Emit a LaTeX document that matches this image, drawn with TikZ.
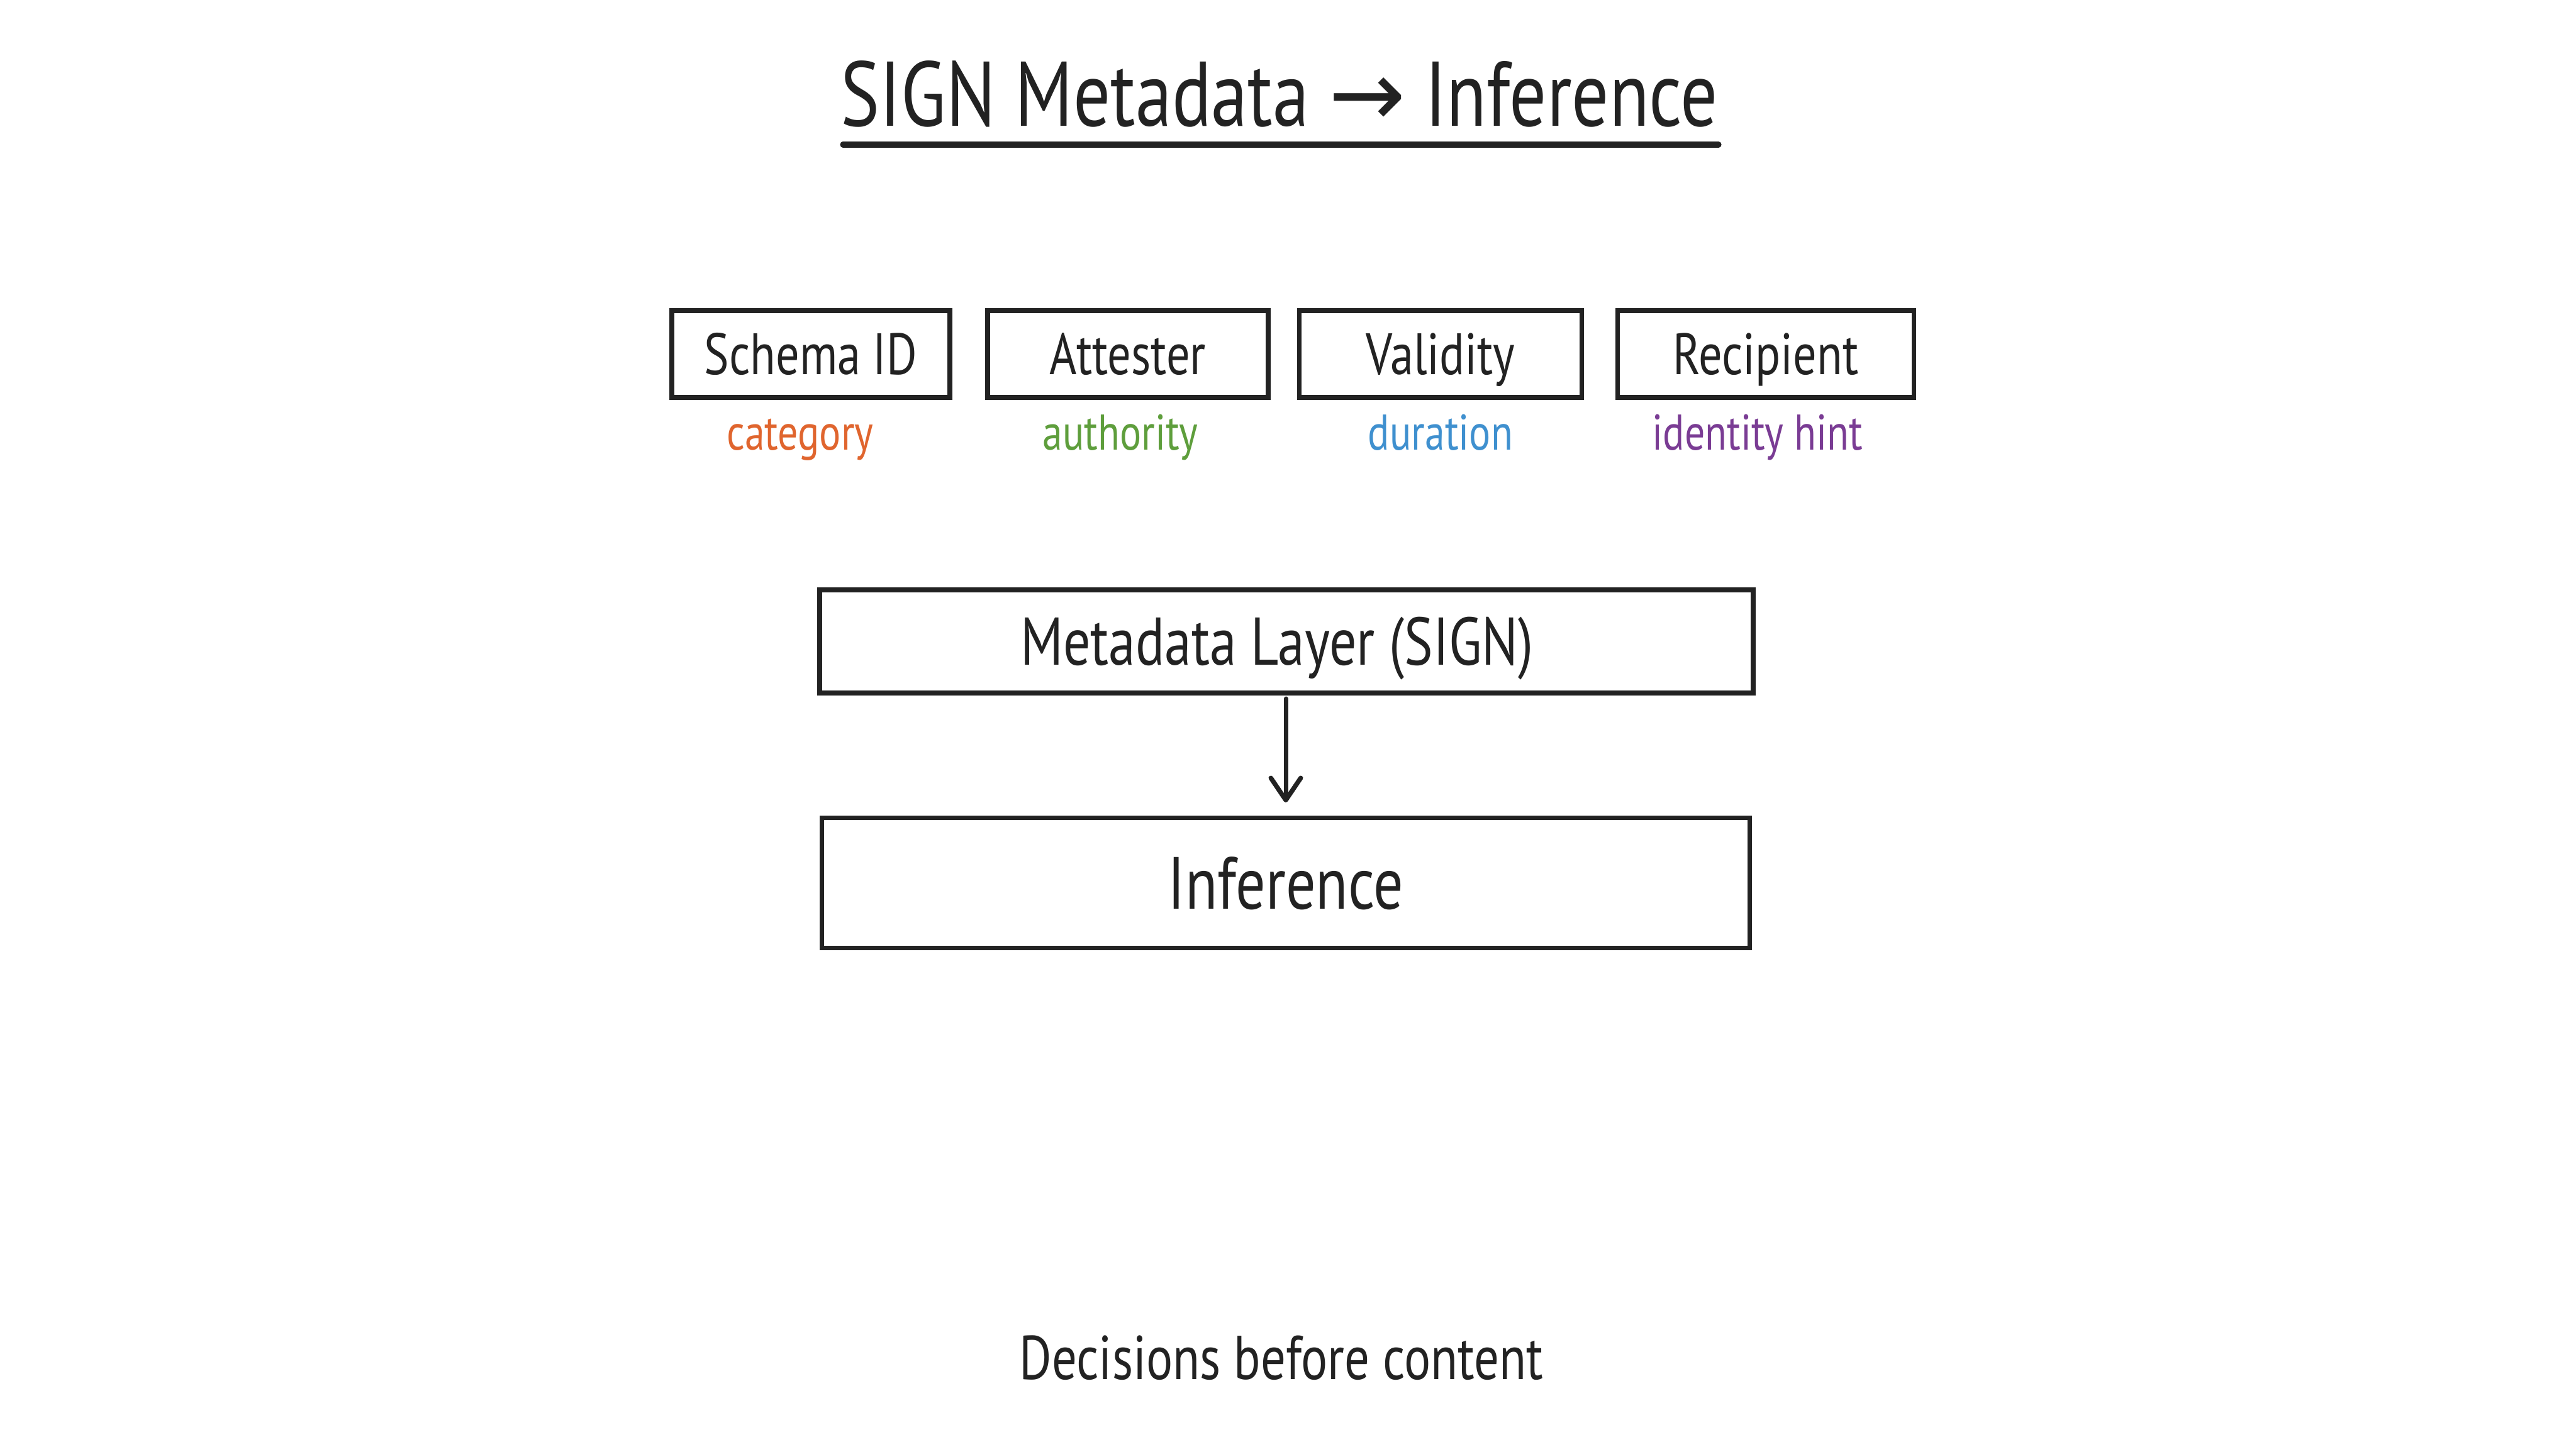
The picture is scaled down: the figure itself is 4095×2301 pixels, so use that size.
\documentclass[tikz,border=0pt]{standalone}
\usepackage{fontspec}
\setmainfont{PT Sans}[FakeStretch=0.8]
\newfontfamily\arrowfont{DejaVu Sans}
\usetikzlibrary{arrows.meta}
\definecolor{inkc}{HTML}{222222}
\definecolor{orangec}{HTML}{E0652E}
\definecolor{greenc}{HTML}{5E9E3C}
\definecolor{bluec}{HTML}{3F90CF}
\definecolor{purplec}{HTML}{7A3C94}
\tikzset{
  fieldbox/.style={draw=inkc, line width=2.1pt, minimum height=138*0.01cm, inner sep=0pt, text=inkc, text height=18.5pt, text depth=0pt, font=\fontsize{26.4}{32}\selectfont},
  layerbox/.style={draw=inkc, line width=2.2pt, inner sep=0pt, text=inkc, text depth=0pt},
  sublabel/.style={font=\fontsize{22.7}{28}\selectfont, inner sep=0pt, anchor=base},
  flow/.style={draw=inkc, line width=2pt, line cap=round, -{Straight Barb[length=10pt,width=13.5pt,line width=2.1pt,round]}},
}
\begin{document}
\begin{tikzpicture}[x=0.01cm, y=-0.01cm]
\useasboundingbox[fill=white] (0,0) rectangle (4095,2301);
% title
\node[text=inkc, font=\fontsize{41.5}{50}\selectfont, inner sep=0pt, anchor=base] (title) at (2034,201) {SIGN Metadata {\arrowfont →} Inference};
\coordinate (ulL) at (1340,230);
\coordinate (ulR) at (2732,230);
\draw[inkc, line width=2.6pt, line cap=round] (ulL) -- (ulR);
% field boxes
\node[fieldbox, minimum width=442*0.01cm] (schema) at (1289,563) {Schema ID};
\node[fieldbox, minimum width=446*0.01cm] (attester) at (1793,563) {Attester};
\node[fieldbox, minimum width=449*0.01cm] (validity) at (2290,563) {Validity};
\node[fieldbox, minimum width=471*0.01cm] (recipient) at (2807,563) {Recipient};
% sub labels
\node[sublabel, text=orangec] (cat) at (1272,716) {category};
\node[sublabel, text=greenc] (auth) at (1781,716) {authority};
\node[sublabel, text=bluec] (dur) at (2290,716) {duration};
\node[sublabel, text=purplec] (idh) at (2794,716) {identity hint};
% layers
\node[layerbox, minimum width=1484*0.01cm, minimum height=164*0.01cm, text height=21.3pt, font=\fontsize{30.5}{36}\selectfont] (meta) at (2045,1020) {Metadata Layer (SIGN)\hspace*{0.3cm}};
\node[layerbox, minimum width=1475*0.01cm, minimum height=207*0.01cm, text height=23.4pt, font=\fontsize{33.4}{40}\selectfont] (inf) at (2044,1404) {Inference};
\coordinate (a0) at (2044,1111);
\coordinate (a1) at (2044,1276);
\draw[flow] (a0) -- (a1);
% footer
\node[text=inkc, font=\fontsize{28}{34}\selectfont, inner sep=0pt, anchor=base] (foot) at (2037,2193) {Decisions before content};
\end{tikzpicture}
\end{document}
